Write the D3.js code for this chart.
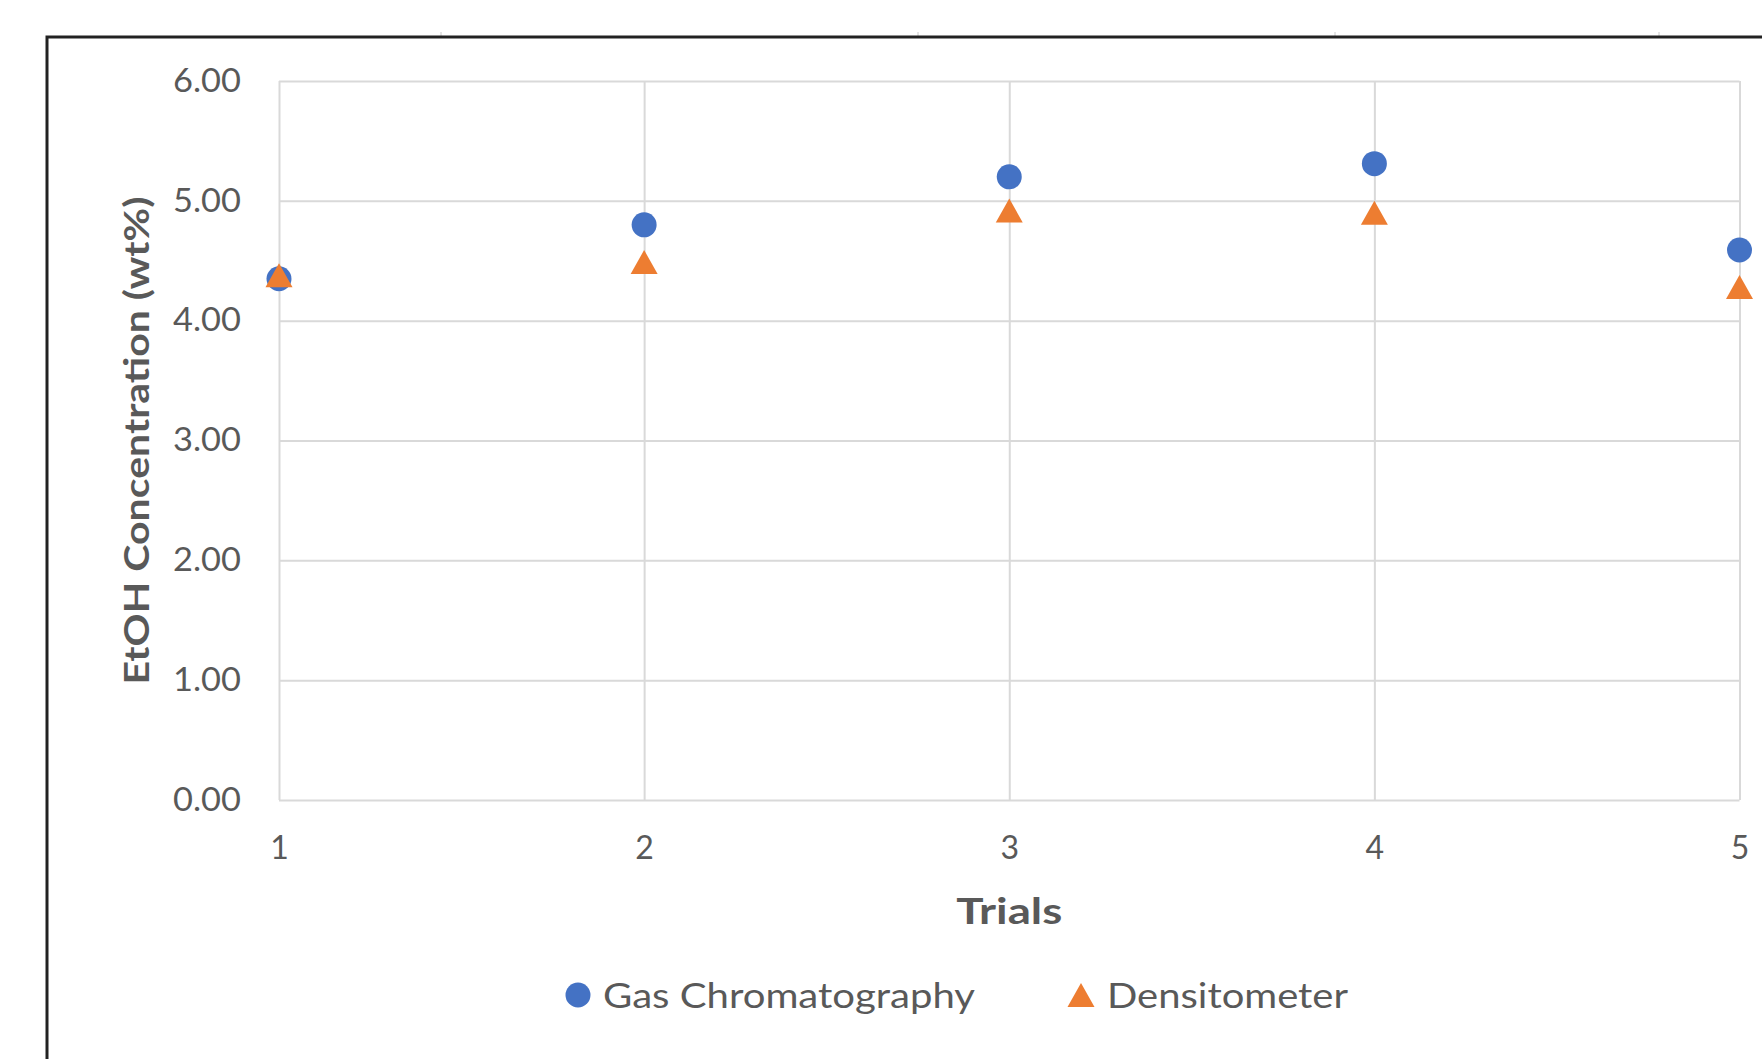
<!DOCTYPE html>
<html>
<head>
<meta charset="utf-8">
<script src="https://cdn.jsdelivr.net/npm/d3@7"></script>
<style>
  html, body { margin: 0; padding: 0; background: #ffffff; }
  svg { display: block; }
  text { font-family: Lato, "Open Sans", sans-serif; fill: #595959; }
</style>
</head>
<body>
<svg id="chart" width="1762" height="1059"></svg>
<script>
const trials = [1, 2, 3, 4, 5];
const gasChromatography = [4.35, 4.80, 5.20, 5.31, 4.59];
const densitometer = [4.38, 4.49, 4.92, 4.90, 4.28];
const yTicks = [0, 1, 2, 3, 4, 5, 6];
const seriesNames = ["Gas Chromatography", "Densitometer"];
const xTitle = "Trials";
const yTitle = "EtOH Concentration (wt%)";

const W = 1762, H = 1059;
const plot = { left: 279, right: 1739.5, top: 81, bottom: 800 };
const blue = "#4472C4", orange = "#ED7D31", grid = "#d9d9d9";

const svg = d3.select("#chart");
svg.append("rect").attr("width", W).attr("height", H).attr("fill", "#fff");

// outer frame (cropped chart border)
[441, 918, 1335, 1659].forEach(x => {
  svg.append("line").attr("x1", x).attr("x2", x).attr("y1", 32).attr("y2", 37)
    .attr("stroke", "#c8c8c8").attr("stroke-width", 1);
});
svg.append("path")
  .attr("d", `M47,${H + 5} L47,37 L${W + 5},37`)
  .attr("fill", "none").attr("stroke", "#222").attr("stroke-width", 3);

const x = d3.scaleLinear().domain([1, 5]).range([plot.left, plot.right]);
const y = d3.scaleLinear().domain([0, 6]).range([plot.bottom, plot.top]);

// horizontal gridlines + y labels
const yAxis = d3.axisLeft(y).tickValues(yTicks).tickFormat(d3.format(".2f"))
  .tickSize(-(plot.right - plot.left)).tickPadding(38);
const gy = svg.append("g").attr("transform", `translate(${plot.left},0)`).call(yAxis);
gy.select(".domain").remove();
gy.selectAll(".tick line").attr("stroke", grid).attr("stroke-width", 2);
gy.selectAll(".tick text").attr("font-size", 32).attr("fill", "#595959")
  .attr("font-family", "Lato, sans-serif")
  .attr("textLength", 68).attr("lengthAdjust", "spacingAndGlyphs");

// vertical gridlines + x labels
const xAxis = d3.axisBottom(x).tickValues(trials).tickFormat(d3.format("d"))
  .tickSize(-(plot.bottom - plot.top)).tickPadding(36);
const gx = svg.append("g").attr("transform", `translate(0,${plot.bottom})`).call(xAxis);
gx.select(".domain").remove();
gx.selectAll(".tick line").attr("stroke", grid).attr("stroke-width", 2);
gx.selectAll(".tick text").attr("font-size", 32).attr("fill", "#595959")
  .attr("font-family", "Lato, sans-serif");

// axis titles
svg.append("text").attr("x", (plot.left + plot.right) / 2).attr("y", 910)
  .attr("text-anchor", "middle").attr("dominant-baseline", "central")
  .attr("font-size", 36).attr("font-weight", "bold")
  .attr("textLength", 106).attr("lengthAdjust", "spacingAndGlyphs")
  .text(xTitle);
svg.append("text")
  .attr("transform", `translate(135,${(plot.top + plot.bottom) / 2}) rotate(-90)`)
  .attr("text-anchor", "middle").attr("dominant-baseline", "central")
  .attr("font-size", 34).attr("font-weight", "bold")
  .attr("textLength", 488).attr("lengthAdjust", "spacingAndGlyphs")
  .text(yTitle);

function tri(cx, cy, w, h) {
  return `M${cx},${cy - h / 2} L${cx + w / 2},${cy + h / 2} L${cx - w / 2},${cy + h / 2} Z`;
}

// GC circles
svg.append("g").selectAll("circle").data(trials).join("circle")
  .attr("cx", d => x(d)).attr("cy", (d, i) => y(gasChromatography[i]))
  .attr("r", 12.5).attr("fill", blue);
// Densitometer triangles
svg.append("g").selectAll("path").data(trials).join("path")
  .attr("d", (d, i) => tri(x(d), y(densitometer[i]), 27, 24))
  .attr("fill", orange);

// legend
const ly = 995;
svg.append("circle").attr("cx", 578).attr("cy", ly).attr("r", 12.5).attr("fill", blue);
svg.append("text").attr("x", 603).attr("y", ly - 1).attr("dominant-baseline", "central")
  .attr("font-size", 35).attr("textLength", 372).attr("lengthAdjust", "spacingAndGlyphs")
  .text(seriesNames[0]);
svg.append("path").attr("d", tri(1081, ly, 27, 24)).attr("fill", orange);
svg.append("text").attr("x", 1107).attr("y", ly - 1).attr("dominant-baseline", "central")
  .attr("font-size", 35).attr("textLength", 241).attr("lengthAdjust", "spacingAndGlyphs")
  .text(seriesNames[1]);
</script>
</body>
</html>
